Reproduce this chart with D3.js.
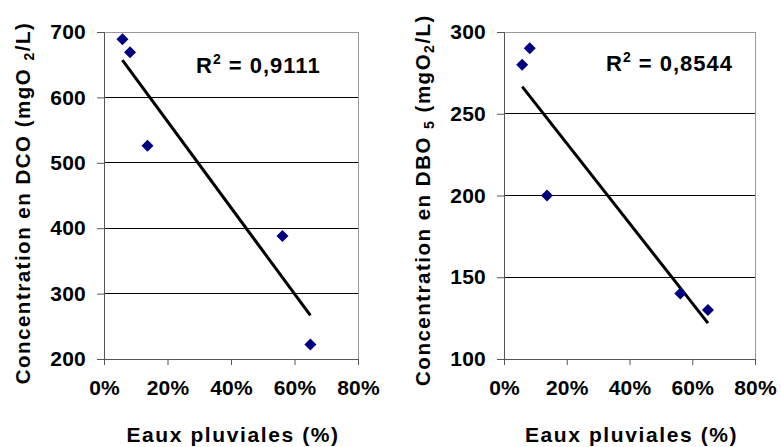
<!DOCTYPE html>
<html><head><meta charset="utf-8">
<script src="https://cdn.jsdelivr.net/npm/d3@7"></script>
<style>
body{margin:0;background:#fff;}
text{font-family:"Liberation Sans",Arial,sans-serif;font-weight:bold;fill:#000;}
</style></head>
<body><svg id="c" width="781" height="447"></svg>
<script>
const pluvial = [0.058, 0.082, 0.137, 0.562, 0.650];
const dco = [689, 669, 526, 388, 222];
const dbo = [280, 290, 200, 140, 130];
const xTicks = [0, 0.2, 0.4, 0.6, 0.8];
const dcoTicks = [200, 300, 400, 500, 600, 700];
const dboTicks = [100, 150, 200, 250, 300];
const r2Labels = ["0,9111", "0,8544"];

const svg = d3.select("#c");

function linreg(xs, ys){
  const n = xs.length, mx = d3.mean(xs), my = d3.mean(ys);
  let sxy = 0, sxx = 0;
  for (let i=0;i<n;i++){ sxy += (xs[i]-mx)*(ys[i]-my); sxx += (xs[i]-mx)**2; }
  const b = sxy/sxx; return x => my + b*(x-mx);
}

function panel(cfg){
  const g = svg.append("g");
  const x = d3.scaleLinear().domain([0,0.8]).range([cfg.x0, cfg.x1]);
  const y = d3.scaleLinear().domain(cfg.yDomain).range([359, 32]);
  g.selectAll(".grid").data(cfg.yTicks.filter(t=>t!==cfg.yDomain[0] && t!==cfg.yDomain[1])).join("line")
    .attr("x1", cfg.x0).attr("x2", cfg.x1).attr("y1", d=>y(d)).attr("y2", d=>y(d))
    .attr("stroke", "#000").attr("stroke-width", 1).attr("shape-rendering","crispEdges");
  g.append("line").attr("x1", cfg.x0).attr("x2", cfg.x1).attr("y1", y(cfg.yDomain[1])).attr("y2", y(cfg.yDomain[1]))
    .attr("stroke", "#999").attr("shape-rendering","crispEdges");
  g.append("line").attr("x1", cfg.x1).attr("x2", cfg.x1).attr("y1", 32).attr("y2", 359)
    .attr("stroke", "#999").attr("shape-rendering","crispEdges");
  const ya = g.append("g").attr("transform", `translate(${cfg.x0},0)`)
    .call(d3.axisLeft(y).tickValues(cfg.yTicks).tickSize(7).tickPadding(11).tickFormat(d3.format("d")));
  const xa = g.append("g").attr("transform", `translate(0,359)`)
    .call(d3.axisBottom(x).tickValues(xTicks).tickSize(6).tickPadding(15).tickFormat(d3.format(".0%")));
  [ya, xa].forEach(a=>{
    a.select(".domain").attr("stroke", "#555");
    a.selectAll(".tick line").attr("stroke", "#555");
    a.selectAll("text").attr("font-size", 21).style("font-family","'Liberation Sans',Arial,sans-serif")
      .style("font-weight","bold").attr("fill","#000").attr("letter-spacing", 0.2);
  });
  const f = linreg(pluvial, cfg.vals);
  const ext = d3.extent(pluvial);
  g.append("line").attr("x1", x(ext[0])).attr("y1", y(f(ext[0]))).attr("x2", x(ext[1])).attr("y2", y(f(ext[1])))
    .attr("stroke", "#000").attr("stroke-width", 3);
  const sym = d3.symbol().type(d3.symbolSquare).size(72);
  g.selectAll(".pt").data(pluvial.map((p,i)=>[p, cfg.vals[i]])).join("path")
    .attr("d", sym).attr("fill", "#000080")
    .attr("transform", d=>`translate(${x(d[0])},${y(d[1])}) rotate(45)`);
  const r = g.append("text").attr("x", cfg.r2x).attr("y", cfg.r2y).attr("font-size", 22).attr("letter-spacing", 1);
  r.append("tspan").text("R");
  r.append("tspan").attr("font-size", 14).attr("dy", -9).text("2");
  r.append("tspan").attr("dy", 9).text(" = " + cfg.r2);
  g.append("text").attr("x", (cfg.x0+cfg.x1)/2+2).attr("y", 442).attr("text-anchor","middle")
    .attr("font-size", 21).attr("letter-spacing", 1.6).text("Eaux pluviales (%)");
  const yl = g.append("text").attr("transform", `translate(${cfg.ylx},${cfg.yly}) rotate(-90)`)
    .attr("text-anchor","middle").attr("font-size", 20.5).attr("letter-spacing", 1.5);
  cfg.ylabel.forEach(p=>{
    const t = yl.append("tspan").text(p.t);
    if (p.sub) t.attr("font-size", 14).attr("dy", 4);
    else if (p.after) t.attr("dy", -4);
  });
}

panel({x0:104, x1:358, yDomain:[200,700], yTicks:dcoTicks, vals:dco, r2:r2Labels[0], r2x:196, r2y:73,
  ylx:30, yly:203,
  ylabel:[{t:"Concentration en DCO (mgO "},{t:"2",sub:true},{t:"/L)",after:true}]});
panel({x0:504, x1:755, yDomain:[100,300], yTicks:dboTicks, vals:dbo, r2:r2Labels[1], r2x:606, r2y:71,
  ylx:430, yly:200,
  ylabel:[{t:"Concentration en DBO "},{t:"5",sub:true},{t:" (mgO",after:true},{t:"2",sub:true},{t:"/L)",after:true}]});
</script></body></html>
